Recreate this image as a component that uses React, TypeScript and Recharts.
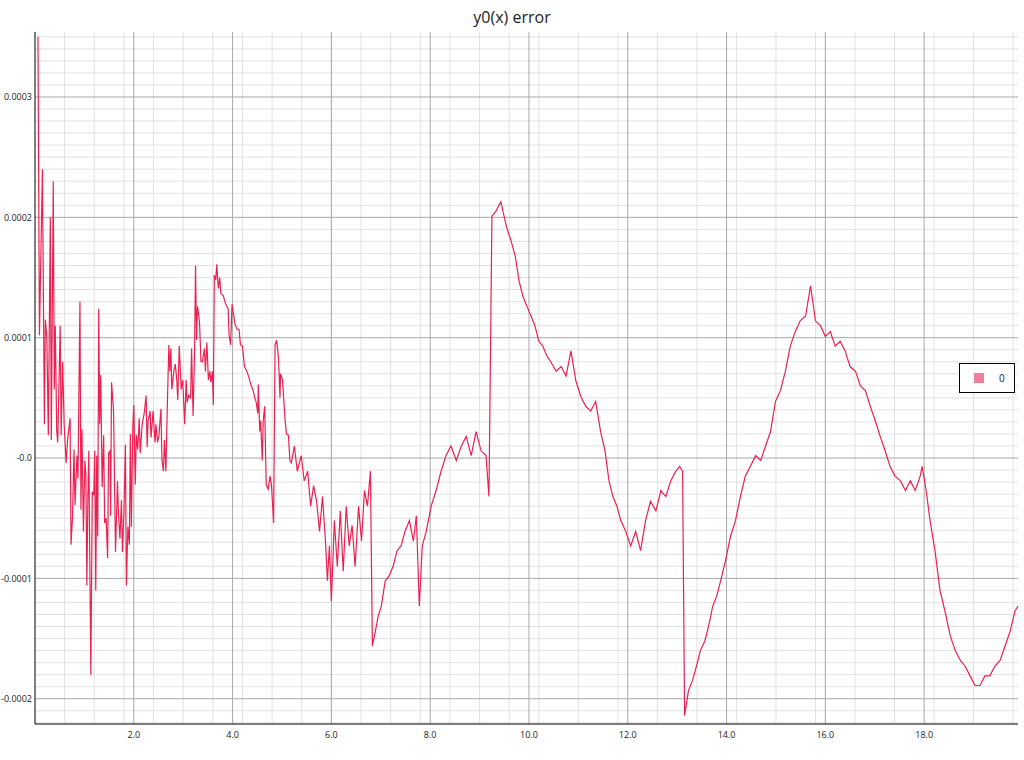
import { LineChart, Line, XAxis, YAxis, CartesianGrid } from "recharts";

// x positions and error values (units of 1e-5)
const xs = [
  0.06, 0.09, 0.15, 0.19, 0.21, 0.24, 0.27, 0.31, 0.33, 0.37, 0.39, 0.41, 0.44, 0.46, 0.51, 0.53, 0.56, 0.59, 0.63, 0.66,
  0.71, 0.73, 0.76, 0.79, 0.81, 0.85, 0.87, 0.91, 0.93, 0.95, 0.98, 1.01, 1.03, 1.05, 1.07, 1.09, 1.13, 1.16, 1.19, 1.21,
  1.23, 1.25, 1.27, 1.29, 1.31, 1.33, 1.36, 1.39, 1.41, 1.44, 1.47, 1.49, 1.52, 1.53, 1.55, 1.59, 1.63, 1.67, 1.69, 1.72,
  1.75, 1.77, 1.8, 1.83, 1.85, 1.88, 1.91, 1.93, 1.95, 1.98, 2.0, 2.03, 2.05, 2.08, 2.11, 2.13, 2.17, 2.21, 2.25, 2.27,
  2.29, 2.33, 2.35, 2.39, 2.43, 2.45, 2.48, 2.51, 2.55, 2.57, 2.6, 2.62, 2.65, 2.68, 2.71, 2.73, 2.75, 2.77, 2.81, 2.84,
  2.87, 2.89, 2.92, 2.96, 2.99, 3.03, 3.06, 3.08, 3.11, 3.15, 3.17, 3.2, 3.23, 3.25, 3.27, 3.29, 3.33, 3.36, 3.39, 3.43,
  3.45, 3.48, 3.51, 3.54, 3.56, 3.59, 3.61, 3.63, 3.66, 3.68, 3.71, 3.74, 3.76, 3.81, 3.86, 3.91, 3.93, 3.96, 3.99, 4.01,
  4.05, 4.09, 4.13, 4.16, 4.2, 4.24, 4.29, 4.33, 4.37, 4.41, 4.45, 4.48, 4.51, 4.52, 4.55, 4.57, 4.6, 4.62, 4.65, 4.68,
  4.72, 4.76, 4.79, 4.83, 4.86, 4.89, 4.93, 4.96, 4.97, 5.01, 5.06, 5.09, 5.13, 5.16, 5.19, 5.25, 5.31, 5.39, 5.45, 5.52,
  5.58, 5.64, 5.7, 5.76, 5.82, 5.88, 5.92, 5.96, 6.0, 6.06, 6.12, 6.18, 6.24, 6.3, 6.36, 6.42, 6.48, 6.55, 6.61, 6.67,
  6.73, 6.79, 6.83, 6.89, 6.95, 7.01, 7.09, 7.17, 7.25, 7.33, 7.41, 7.49, 7.58, 7.66, 7.72, 7.78, 7.84, 7.92, 8.02, 8.12,
  8.22, 8.32, 8.42, 8.53, 8.63, 8.73, 8.83, 8.93, 9.03, 9.13, 9.19, 9.25, 9.33, 9.43, 9.54, 9.64, 9.72, 9.8, 9.88, 9.96,
  10.04, 10.12, 10.2, 10.28, 10.36, 10.44, 10.55, 10.65, 10.75, 10.85, 10.95, 11.05, 11.15, 11.25, 11.35, 11.45, 11.54, 11.62, 11.7, 11.78,
  11.86, 11.96, 12.06, 12.16, 12.26, 12.36, 12.46, 12.57, 12.67, 12.77, 12.87, 12.97, 13.05, 13.11, 13.15, 13.23, 13.31, 13.39, 13.47, 13.56,
  13.64, 13.72, 13.8, 13.88, 13.98, 14.08, 14.18, 14.28, 14.38, 14.48, 14.59, 14.69, 14.79, 14.89, 14.99, 15.09, 15.19, 15.29, 15.39, 15.49,
  15.6, 15.7, 15.8, 15.9, 16.0, 16.1, 16.2, 16.3, 16.4, 16.5, 16.61, 16.71, 16.81, 16.91, 17.01, 17.11, 17.21, 17.31, 17.41, 17.52,
  17.62, 17.72, 17.82, 17.92, 17.96, 18.04, 18.12, 18.22, 18.32, 18.42, 18.53, 18.63, 18.73, 18.83, 18.93, 19.03, 19.13, 19.23, 19.33, 19.43,
  19.54, 19.64, 19.74, 19.84, 19.9,
];

const errorE5 = [
  35, 10.2, 24, 2.8, 11.5, 10, 1.9, 20, 1.5, 23, 5.7, 11, 2.2, 1.3, 11, 1.9, 8, 2.8, -0.4, 1.5,
  3.3, -7.2, -4.8, 0.7, -3.9, 0.2, -1.7, 13, -4.3, 2.4, -6.1, -0.2, -1.5, -10.6, -3.5, 0.6, -18, -2.8, -3.1, 0.6,
  -11, 0.2, -6.5, 12.4, 2.8, 6.9, -2.4, 1.9, -5.4, -5, -8.3, 0.4, 0.6, -4.8, 6.3, 3.9, -7.8, -1.9, -4.6, -6.7,
  -3.5, -7.8, -4.6, 1.1, -10.6, -5.7, -7.2, 2, -5.7, 2.6, 4.4, -2.2, 1.9, 0.7, 3.3, 0.4, 2.8, 3.7, 5.2, 0.9,
  3.1, 3.9, 1.7, 3.9, 1.3, 2.8, 1.3, 1.9, 4.1, -0.2, -1.1, 1.5, -1.1, 4.6, 9.4, 7.2, 9.1, 5.7, 7.2, 7.8,
  6.5, 4.8, 9.3, 5.7, 6.5, 2.8, 6.5, 4.6, 5.2, 5, 9.1, 3.5, 8.7, 16, 9.8, 12.6, 11.3, 8, 8, 9.1,
  7.2, 9.6, 6.5, 7.2, 6.3, 7.2, 4.4, 15.2, 14.8, 16.1, 14.1, 15, 13.7, 13.5, 12.8, 12.4, 10.2, 9.4, 12.8, 12.2,
  11.1, 10.7, 10.7, 9.4, 9.3, 7.6, 7.2, 6.7, 6.1, 5.7, 5, 4.6, 3.7, 6.1, 2.2, 3.1, -0.2, 3.1, 4.3, -2.2,
  -2.6, -1.5, -2.4, -5.4, 9.4, 9.8, 8.3, 5, 7, 6.5, 3.3, 2, 1.9, -0.2, -0.4, 1.0, -1.1, 0.2, -1.9, -1.1,
  -4, -2.3, -3.6, -6.1, -3.2, -6.9, -10.2, -7.3, -11.9, -5.2, -9, -4.4, -9.4, -4, -7.3, -5.6, -9, -4, -6.9, -2.7,
  -4, -1.1, -15.6, -14.4, -13.1, -12.3, -10.2, -9.8, -9, -7.7, -7.3, -6.1, -5.2, -6.9, -4.8, -12.3, -7.3, -6.1, -4, -2.7,
  -1.1, 0.2, 1.0, -0.2, 1.0, 1.8, 0.2, 2.2, 0.6, 0.2, -3.2, 20.1, 20.5, 21.3, 19.3, 18, 16.8, 14.7, 13.4, 12.6,
  11.8, 11, 9.7, 9.3, 8.5, 8, 7.2, 7.6, 6.8, 8.9, 6.4, 5.1, 4.3, 3.9, 4.7, 2.2, 0.6, -1.9, -3.2, -4,
  -5.2, -6.1, -7.3, -6.1, -7.7, -5.2, -3.6, -4.4, -2.7, -3.2, -1.9, -1.1, -0.7, -1.1, -21.4, -19.3, -18.5, -17.3, -16, -15.2,
  -13.9, -12.3, -11.5, -10.2, -8.5, -6.5, -5.2, -3.2, -1.5, -0.7, 0.2, -0.2, 1.0, 2.2, 4.7, 5.6, 7.2, 9.3, 10.5, 11.4,
  11.8, 14.3, 11.4, 11, 10.1, 10.5, 9.3, 9.7, 8.9, 7.6, 7.2, 6, 5.6, 4.3, 3.1, 1.8, 0.6, -0.7, -1.5, -1.9,
  -2.7, -1.9, -2.7, -1.5, -0.7, -2.7, -5.2, -7.7, -11, -12.7, -14.8, -16, -16.8, -17.3, -18.1, -18.9, -18.9, -18.1, -18.1, -17.3,
  -16.8, -15.6, -14.4, -12.7, -12.3,
];

const xTicks = [2, 4, 6, 8, 10, 12, 14, 16, 18];
const yTicks = [-0.0002, -0.0001, 0, 0.0001, 0.0002, 0.0003];
const yTickLabels = ["-0.0002", "-0.0001", "-0.0", "0.0001", "0.0002", "0.0003"];

const data = xs.map((x, i) => ({ x, err: errorE5[i] * 1e-5 }));

const minorX: number[] = [];
for (let i = 1; i < 100; i++) minorX.push(i * 0.2);
const minorY: number[] = [];
for (let i = -22; i <= 35; i++) minorY.push(i * 1e-5);

const font = "'Open Sans', 'Noto Sans', sans-serif";

export default function App() {
  return (
    <div style={{ position: "absolute", left: 0, top: 0, width: 1024, height: 760, background: "#fff", fontFamily: font }}>
      <div style={{ position: "absolute", top: 6, width: 1024, textAlign: "center", fontSize: 16, color: "#222" }}>
        y0(x) error
      </div>
      <LineChart width={1024} height={760} data={data} margin={{ top: 32, right: 6, left: 0, bottom: 0 }}>
        <CartesianGrid stroke="#e2e2e2" strokeWidth={1} verticalValues={minorX} horizontalValues={minorY} />
        <CartesianGrid stroke="#a8a8a8" strokeWidth={1} verticalValues={xTicks} horizontalValues={yTicks} />
        <XAxis
          dataKey="x"
          type="number"
          domain={[0, 19.9]}
          ticks={xTicks}
          tickFormatter={(v: number) => v.toFixed(1)}
          tickLine={false}
          axisLine={{ stroke: "#000" }}
          height={36}
          tick={{ fontSize: 9, fill: "#222", fontFamily: font }}
        />
        <YAxis
          type="number"
          domain={[-0.000221, 0.000354]}
          ticks={yTicks}
          tickFormatter={(v: number) => yTickLabels[yTicks.findIndex((t) => Math.abs(t - v) < 1e-9)] ?? ""}
          tickLine={false}
          tickSize={0}
          tickMargin={3}
          axisLine={{ stroke: "#000" }}
          width={35}
          allowDataOverflow
          tick={{ fontSize: 9, fill: "#222", fontFamily: font }}
        />
        <Line dataKey="err" stroke="#ec2152" strokeWidth={1.2} dot={false} isAnimationActive={false} />
      </LineChart>
      <div
        style={{
          position: "absolute",
          left: 959,
          top: 363,
          width: 54,
          height: 28,
          border: "1px solid #000",
          background: "#fff",
          fontSize: 10,
        }}
      >
        <div style={{ position: "absolute", left: 14, top: 9, width: 10, height: 10, background: "#ef7f9c" }} />
        <div style={{ position: "absolute", left: 39, top: 7, color: "#222" }}>0</div>
      </div>
    </div>
  );
}
